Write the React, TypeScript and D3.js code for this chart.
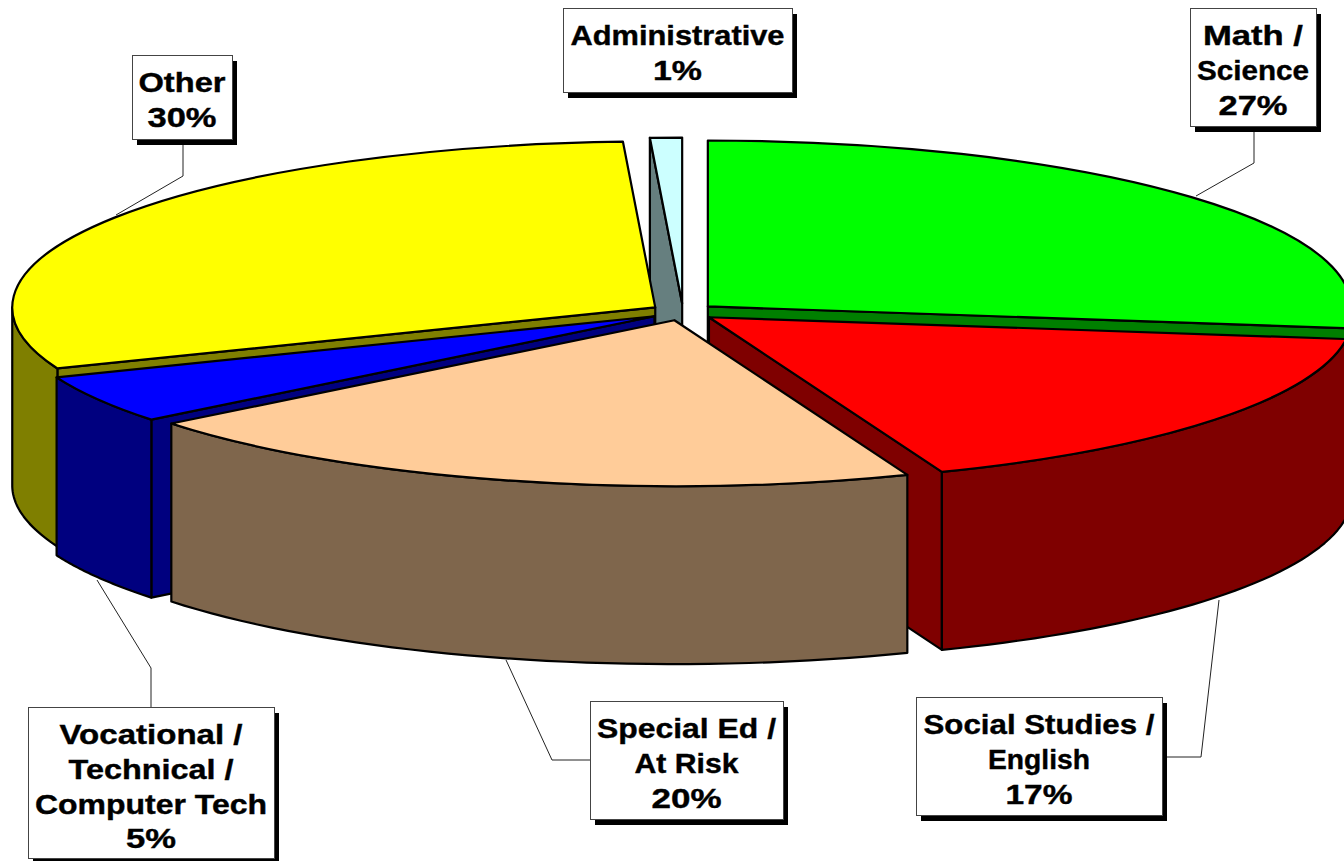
import * as d3 from "d3";

const categories = ["Math / Science", "Social Studies / English", "Special Ed / At Risk", "Vocational / Technical / Computer Tech", "Other", "Administrative"];
// shares, the printed labels are rounded
const shares = [27.1, 17.0, 20.2, 4.7, 30.2, 0.8];
const topColors = ["#00ff00", "#ff0000", "#ffcc99", "#0000ff", "#ffff00", "#ccffff"];
const sideColors = ["#007f00", "#7f0000", "#7f664c", "#00007f", "#7f7f00", "#667f7f"];
// back to front
const paintOrder = [5, 0, 4, 3, 1, 2];

const labelLines = [
  ["Math /", "Science", "27%"],
  ["Social Studies /", "English", "17%"],
  ["Special Ed /", "At Risk", "20%"],
  ["Vocational /", "Technical /", "Computer Tech", "5%"],
  ["Other", "30%"],
  ["Administrative", "1%"],
];
// measured line widths, the original font is wider than anything installed
const lineWidths = [
  [100, 112, 69],
  [231, 102, 67],
  [179, 104, 70],
  [183, 165, 232, 50],
  [87, 69],
  [214, 49],
];
const labelBoxes = [
  { x: 1190, y: 8, w: 126, h: 118 },
  { x: 916, y: 697, w: 246, h: 118 },
  { x: 590, y: 701, w: 193, h: 118 },
  { x: 28, y: 707, w: 246, h: 151 },
  { x: 132, y: 55, w: 100, h: 84 },
  { x: 563, y: 8, w: 229, h: 84 },
];
const leaders: [number, number][][] = [
  [[1254, 126], [1254, 163], [1196, 196]],
  [[1162, 757], [1201, 757], [1219, 600]],
  [[590, 760], [552, 760], [506, 660]],
  [[151, 707], [151, 668], [97, 580]],
  [[183, 139], [183, 176], [116, 215]],
];

const width = 1344, height = 861;
const cx = 683, cy = 312;
const radius = 643, tilt = 0.258, depth = 178, explode = 33;
const lineHeight = 34.8;

const pieData = d3.pie<number>().sort(null).value(d => d)(shares);
const px = d3.scaleLinear().domain([-1, 1]).range([-radius, radius]);
const py = d3.scaleLinear().domain([-1, 1]).range([-radius * tilt, radius * tilt]);
const topArc = d3.arc<d3.PieArcDatum<number>>().innerRadius(0).outerRadius(radius);
const outline = d3.line();

function Slice({ i }: { i: number }) {
  const d = pieData[i];
  const mid = (d.startAngle + d.endAngle) / 2;
  const ox = cx + Math.sin(mid) * explode;
  const oy = cy - Math.cos(mid) * explode * tilt;
  const edge = (a: number): [number, number] => [ox + px(Math.sin(a)), oy + py(-Math.cos(a))];

  // the outer wall only shows on the front half of the rim
  const a0 = Math.max(d.startAngle, Math.PI / 2);
  const a1 = Math.min(d.endAngle, Math.PI * 1.5);
  const wall = a1 > a0
    ? d3.area<number>()
        .x(a => edge(a)[0])
        .y0(a => edge(a)[1])
        .y1(a => edge(a)[1] + depth)(d3.range(0, 41).map(t => a0 + ((a1 - a0) * t) / 40))
    : null;

  const faceAt = (a: number) => {
    const [ex, ey] = edge(a);
    return outline([[ox, oy], [ex, ey], [ex, ey + depth], [ox, oy + depth]]) + "Z";
  };
  const faces: number[] = [];
  if (Math.sin(d.startAngle) < -1e-6) faces.push(d.startAngle);
  if (Math.sin(d.endAngle) > 1e-6) faces.push(d.endAngle);

  return (
    <g stroke="#000" strokeWidth={2.2} strokeLinejoin="round">
      {faces.map((a, k) => <path key={k} d={faceAt(a)} fill={sideColors[i]} />)}
      {wall && <path d={wall} fill={sideColors[i]} />}
      <path
        d={topArc(d) as string}
        transform={`translate(${ox},${oy}) scale(1,${tilt})`}
        fill={topColors[i]}
        vectorEffect="non-scaling-stroke"
      />
    </g>
  );
}

function Label({ i }: { i: number }) {
  const b = labelBoxes[i];
  return (
    <g>
      <rect x={b.x + 5} y={b.y + 6} width={b.w} height={b.h} fill="#000" />
      <rect x={b.x + 0.5} y={b.y + 0.5} width={b.w} height={b.h} fill="#fff" stroke="#444" strokeWidth={1} />
      {labelLines[i].map((t, k) => (
        <text
          key={k}
          x={b.x + b.w / 2}
          y={b.y + 37 + k * lineHeight}
          textAnchor="middle"
          textLength={lineWidths[i][k]}
          lengthAdjust="spacingAndGlyphs"
          fontFamily="'Liberation Sans', Arial, sans-serif"
          fontWeight="bold"
          fontSize={28}
          fill="#000"
          stroke="#000"
          strokeWidth={0.4}
        >
          {t}
        </text>
      ))}
    </g>
  );
}

export default function App() {
  return (
    <svg width={width} height={height} style={{ position: "absolute", left: 0, top: 0 }} aria-label={categories.join(", ")}>
      <rect width={width} height={height} fill="#fff" />
      {leaders.map((l, i) => <path key={i} d={outline(l) as string} fill="none" stroke="#222" strokeWidth={1} />)}
      {paintOrder.map(i => <Slice key={i} i={i} />)}
      {categories.map((_, i) => <Label key={i} i={i} />)}
    </svg>
  );
}
